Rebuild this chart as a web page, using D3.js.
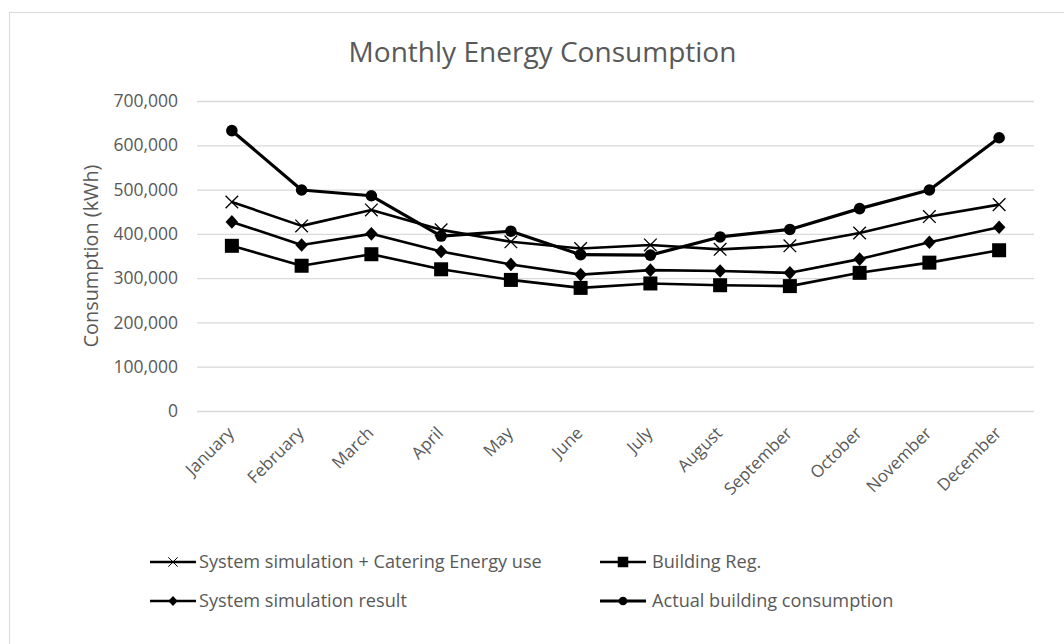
<!DOCTYPE html>
<html>
<head>
<meta charset="utf-8">
<script src="https://cdn.jsdelivr.net/npm/d3@7"></script>
<style>
  body { margin: 0; background: #fff; }
  text { font-family: "Open Sans", sans-serif; fill: #595959; }
</style>
</head>
<body>
<div id="chart"></div>
<script>
// données
var months = ["January","February","March","April","May","June","July","August","September","October","November","December"];
var simCatering = [472000,418000,454000,409000,382000,367000,375000,365000,373000,402000,439000,466000];
var buildingReg = [373000,328000,354000,320000,296000,278000,288000,284000,282000,312000,335000,363000];
var simResult = [427000,375000,400000,360000,331000,308000,318000,316000,312000,343000,381000,415000];
var actual = [633000,499000,486000,395000,406000,353000,352000,393000,410000,457000,499000,617000];
var yTicks = [0,100000,200000,300000,400000,500000,600000,700000];

var series = [
  {name:"System simulation + Catering Energy use", values:simCatering, marker:"x", width:2.6},
  {name:"Building Reg.", values:buildingReg, marker:"square", width:2.6},
  {name:"System simulation result", values:simResult, marker:"diamond", width:2.6},
  {name:"Actual building consumption", values:actual, marker:"circle", width:3.2}
];

var width = 1064, height = 644,
    plotLeft = 197, plotRight = 1034, plotTop = 101, plotBottom = 411;

var svg = d3.select("#chart").append("svg")
  .attr("width", width).attr("height", height);

// cadre du graphique
svg.append("rect")
  .attr("x", 9.5).attr("y", 12.5)
  .attr("width", width).attr("height", height)
  .attr("fill", "#fff").attr("stroke", "#d9d9d9").attr("stroke-width", 1);

var x = d3.scalePoint().domain(months).range([plotLeft, plotRight]).padding(0.5);
var y = d3.scaleLinear().domain([0, 700000]).range([plotBottom, plotTop]);

function fit(sel, w) {
  //ajuste la taille de police pour obtenir la largeur voulue
  var cur = sel.node().getComputedTextLength();
  var fs = parseFloat(sel.attr("font-size"));
  sel.attr("font-size", fs * w / cur);
  return fs * w / cur;
}

// titre
var title = svg.append("text")
  .attr("x", 542.5).attr("y", 62)
  .attr("text-anchor", "middle")
  .attr("font-size", 26)
  .text("Monthly Energy Consumption");
fit(title, 388);

// axe y + grille
var yAxis = svg.append("g")
  .attr("transform", "translate(" + plotLeft + ",0)")
  .call(d3.axisLeft(y).tickValues(yTicks).tickSize(-(plotRight - plotLeft)).tickPadding(19).tickFormat(d3.format(",")));
yAxis.select(".domain").remove();
yAxis.selectAll(".tick line").attr("stroke", "#d9d9d9").attr("stroke-width", 1.3);
yAxis.selectAll(".tick text")
  .attr("font-size", 17.5)
  .attr("font-family", "Open Sans, sans-serif")
  .attr("fill", "#595959");

var yTitle = svg.append("text")
  .attr("transform", "translate(98,256) rotate(-90)")
  .attr("text-anchor", "middle")
  .attr("font-size", 18)
  .text("Consumption (kWh)");
fit(yTitle, 183);

// étiquettes des mois
svg.append("g").selectAll("text")
  .data(months)
  .enter().append("text")
  .attr("transform", d => "translate(" + (x(d) - 1) + ",430) rotate(-45)")
  .attr("text-anchor", "end")
  .attr("dy", "0.35em")
  .attr("font-size", 17)
  .text(d => d);

// marqueurs
function marker(sel, type) {
  if (type === "circle") {
    sel.append("circle").attr("r", 5.8).attr("fill", "#000");
  } else if (type === "square") {
    sel.append("rect").attr("x", -7).attr("y", -7).attr("width", 14).attr("height", 14).attr("fill", "#000");
  } else if (type === "diamond") {
    sel.append("path").attr("d", "M0,-6.8 L6.3,0 0,6.8 -6.3,0 Z").attr("fill", "#000");
  } else if (type === "x") {
    sel.append("path").attr("d", "M-6.3,-6.3 L6.3,6.3 M-6.3,6.3 L6.3,-6.3").attr("stroke", "#000").attr("stroke-width", 1.3).attr("fill", "none");
  }
}

var line = d3.line().x((d, i) => x(months[i])).y(d => y(d));

series.forEach(function(s) {
  svg.append("path")
    .datum(s.values)
    .attr("d", line)
    .attr("fill", "none")
    .attr("stroke", "#000")
    .attr("stroke-width", s.width)
    .attr("stroke-linejoin", "round");
  svg.append("g").selectAll("g")
    .data(s.values)
    .enter().append("g")
    .attr("transform", (d, i) => "translate(" + x(months[i]) + "," + y(d) + ")")
    .each(function() { marker(d3.select(this), s.marker); });
});

// légende
var legendPos = [[150, 562], [600, 562], [150, 601], [600, 601]];
var legend = svg.append("g").selectAll("g")
  .data(series)
  .enter().append("g")
  .attr("transform", (d, i) => "translate(" + legendPos[i][0] + "," + legendPos[i][1] + ")");
legend.append("line")
  .attr("x1", 0).attr("x2", 46)
  .attr("stroke", "#000").attr("stroke-width", d => d.width);
legend.each(function(d) {
  var g = d3.select(this).append("g").attr("transform", "translate(23,0) scale(0.75)");
  marker(g, d.marker);
});
var legTexts = legend.append("text")
  .attr("x", 49).attr("dy", "0.35em")
  .attr("font-size", 16)
  .text(d => d.name);
var fs = fit(d3.select(legTexts.nodes()[0]), 343);
legTexts.attr("font-size", fs);
legTexts.filter((d, i) => i % 2 == 1).attr("x", 52);
</script>
</body>
</html>
